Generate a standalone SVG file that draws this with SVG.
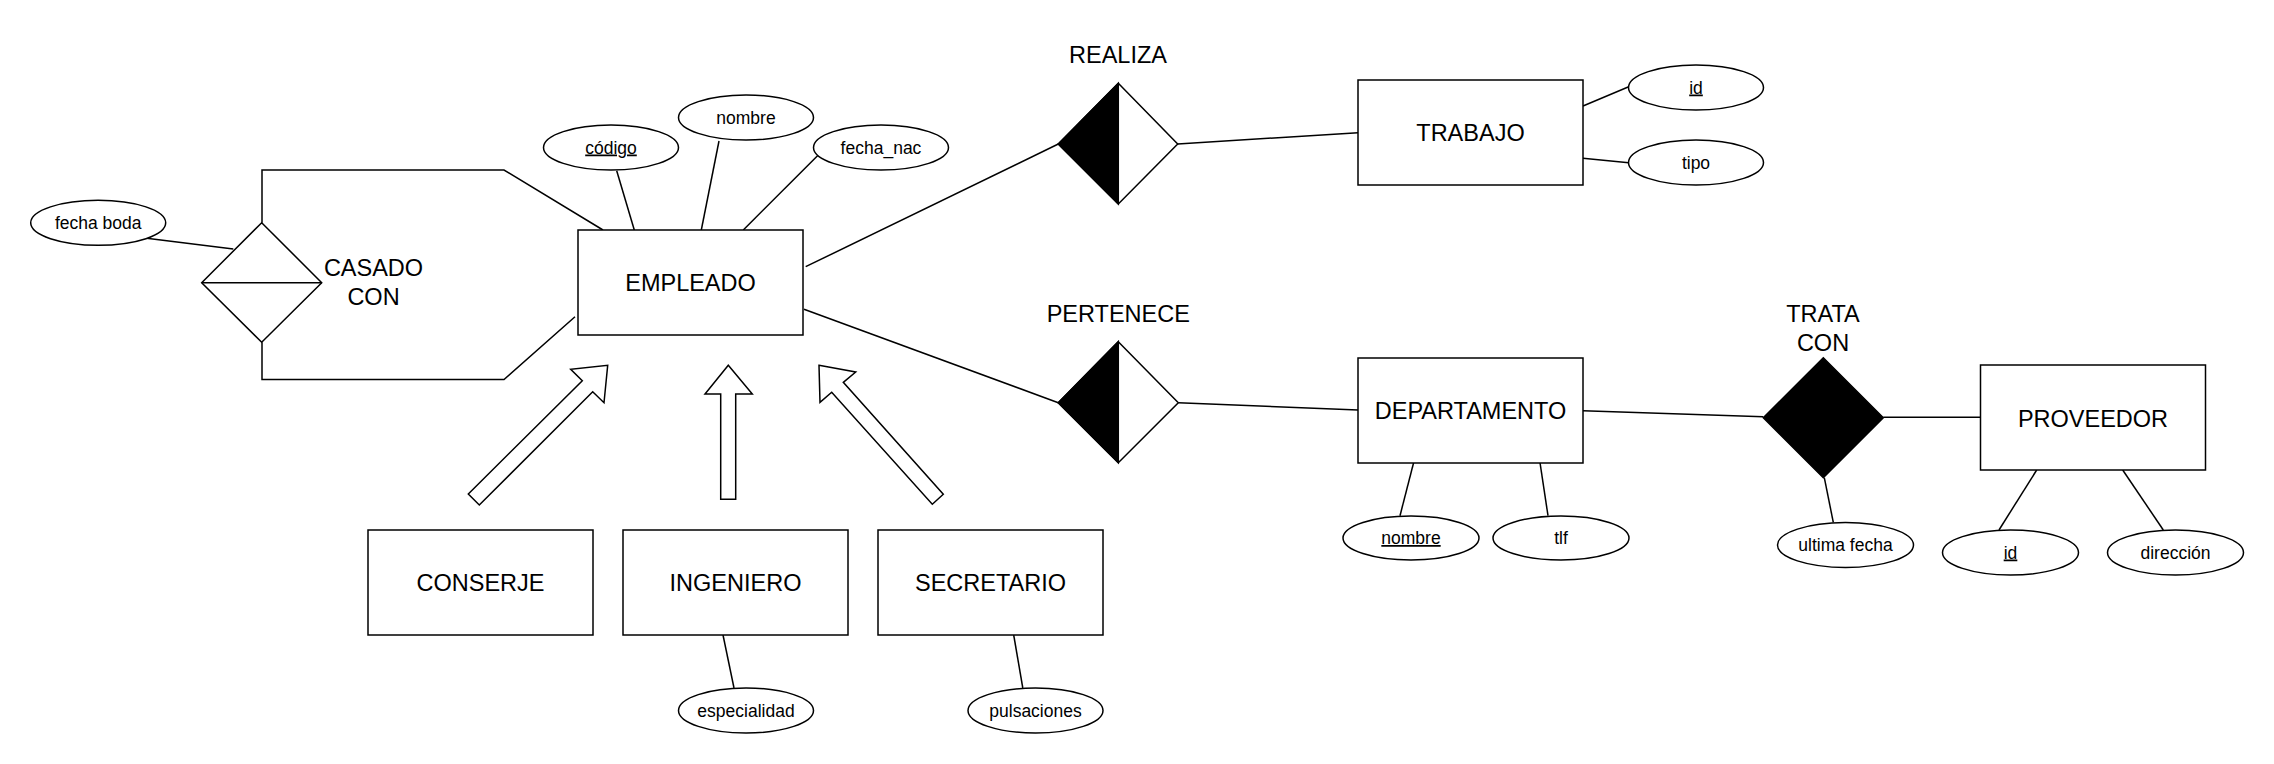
<svg xmlns="http://www.w3.org/2000/svg" width="2274" height="764" viewBox="0 0 2274 764">
<style>
.s{fill:#fff;stroke:#000;stroke-width:1.5}
.k{fill:#000;stroke:#000;stroke-width:1.5}
.ln{fill:none;stroke:#000;stroke-width:1.5}
.t{font-family:"Liberation Sans",Arial,sans-serif;font-size:23.5px;fill:#000;text-anchor:middle}
.a{font-family:"Liberation Sans",Arial,sans-serif;font-size:17.5px;fill:#000;text-anchor:middle}
.u{text-decoration:underline}
</style>
<rect x="0" y="0" width="2274" height="764" fill="#fff"/>
<g id="connectors">
<line class="ln" x1="146.7" y1="238.3" x2="233.3" y2="249"/>
<polyline class="ln" points="262,222.7 262,170 504,170 603,230"/>
<polyline class="ln" points="262,342.3 262,379.5 504,379.5 575,316.7"/>
<line class="ln" x1="616.7" y1="170.7" x2="634.3" y2="230"/>
<line class="ln" x1="719" y1="141" x2="701.3" y2="230"/>
<line class="ln" x1="818.3" y1="155" x2="743.3" y2="230"/>
<line class="ln" x1="805.7" y1="266.7" x2="1058.3" y2="144"/>
<line class="ln" x1="1177.7" y1="144" x2="1358" y2="132.7"/>
<line class="ln" x1="1583" y1="106" x2="1628.7" y2="86.7"/>
<line class="ln" x1="1583" y1="158.3" x2="1628.7" y2="162.7"/>
<line class="ln" x1="804" y1="309.3" x2="1058.3" y2="402.7"/>
<line class="ln" x1="1178.3" y1="402.7" x2="1358" y2="410"/>
<line class="ln" x1="1413.6" y1="462.7" x2="1400" y2="515.7"/>
<line class="ln" x1="1540" y1="462.7" x2="1548" y2="515.7"/>
<line class="ln" x1="1583" y1="410.7" x2="1763.3" y2="416.7"/>
<line class="ln" x1="1883.3" y1="417.3" x2="1980" y2="417.3"/>
<line class="ln" x1="1824.3" y1="477.7" x2="1833.3" y2="522.3"/>
<line class="ln" x1="2036.7" y1="470" x2="1999" y2="530"/>
<line class="ln" x1="2122.7" y1="470" x2="2163.3" y2="530"/>
<line class="ln" x1="723" y1="635" x2="734" y2="688"/>
<line class="ln" x1="1013.7" y1="635" x2="1022.8" y2="688"/>
<polygon class="s" points="468.3,494 582.3,380.7 570.7,369.3 607.7,365.3 604,402.7 592.7,391.7 479.3,505"/>
<polygon class="s" points="728.3,365.3 752.3,394 735.7,394 735.7,499.3 720.7,499.3 720.7,394 705,394"/>
<polygon class="s" points="819,365.3 855.7,372 843.3,382.3 943.3,494.3 932.3,504.3 831.7,392.3 820,402.3"/>
</g>
<g id="empleado">
<rect class="s" x="578" y="230" width="225" height="105"/>
<text class="t" x="690.5" y="291">EMPLEADO</text>
</g>
<g id="codigo">
<ellipse class="s" cx="611" cy="147.5" rx="67.5" ry="22.5"/>
<text class="a u" x="611" y="153.5">código</text>
</g>
<g id="nombre">
<ellipse class="s" cx="746" cy="117.5" rx="67.5" ry="22.5"/>
<text class="a" x="746" y="123.5">nombre</text>
</g>
<g id="fecha_nac">
<ellipse class="s" cx="881" cy="147.5" rx="67.5" ry="22.5"/>
<text class="a" x="881" y="153.5">fecha_nac</text>
</g>
<g id="casado_con">
<polygon class="s" points="261.7,222.7 321.7,282.7 261.7,342.3 201.7,282.7"/>
<line class="ln" x1="201.7" y1="282.7" x2="321.7" y2="282.7"/>
<text class="t"><tspan x="373.5" y="275.5">CASADO</tspan><tspan x="373.5" y="305">CON</tspan></text>
</g>
<g id="fecha_boda">
<ellipse class="s" cx="98.2" cy="222.8" rx="67.5" ry="22.5"/>
<text class="a" x="98.2" y="228.8">fecha boda</text>
</g>
<g id="conserje">
<rect class="s" x="368" y="530" width="225" height="105"/>
<text class="t" x="480.5" y="591">CONSERJE</text>
</g>
<g id="ingeniero">
<rect class="s" x="623" y="530" width="225" height="105"/>
<text class="t" x="735.5" y="591">INGENIERO</text>
</g>
<g id="secretario">
<rect class="s" x="878" y="530" width="225" height="105"/>
<text class="t" x="990.5" y="591">SECRETARIO</text>
</g>
<g id="especialidad">
<ellipse class="s" cx="746" cy="710.5" rx="67.5" ry="22.5"/>
<text class="a" x="746" y="716.5">especialidad</text>
</g>
<g id="pulsaciones">
<ellipse class="s" cx="1035.5" cy="710.5" rx="67.5" ry="22.5"/>
<text class="a" x="1035.5" y="716.5">pulsaciones</text>
</g>
<g id="realiza">
<polygon class="s" points="1118.3,83.3 1177.7,144 1118.3,204 1058.3,144"/>
<polygon class="k" points="1118.3,83.3 1118.3,204 1058.3,144"/>
<text class="t" x="1118" y="63.3">REALIZA</text>
</g>
<g id="trabajo">
<rect class="s" x="1358" y="80" width="225" height="105"/>
<text class="t" x="1470.5" y="141">TRABAJO</text>
</g>
<g id="trabajo_id">
<ellipse class="s" cx="1696" cy="87.5" rx="67.5" ry="22.5"/>
<text class="a u" x="1696" y="93.5">id</text>
</g>
<g id="tipo">
<ellipse class="s" cx="1696" cy="162.5" rx="67.5" ry="22.5"/>
<text class="a" x="1696" y="168.5">tipo</text>
</g>
<g id="pertenece">
<polygon class="s" points="1118.3,341.7 1178.3,402.7 1118.3,462.7 1058.3,402.7"/>
<polygon class="k" points="1118.3,341.7 1118.3,462.7 1058.3,402.7"/>
<text class="t" x="1118.3" y="321.7">PERTENECE</text>
</g>
<g id="departamento">
<rect class="s" x="1358" y="358" width="225" height="105"/>
<text class="t" x="1470.5" y="418.6">DEPARTAMENTO</text>
</g>
<g id="dept_nombre">
<ellipse class="s" cx="1411" cy="538" rx="68" ry="22"/>
<text class="a u" x="1411" y="544">nombre</text>
</g>
<g id="tlf">
<ellipse class="s" cx="1561" cy="538" rx="68" ry="22"/>
<text class="a" x="1561" y="544">tlf</text>
</g>
<g id="trata_con">
<polygon class="k" points="1823.3,357.7 1883.3,417.7 1823.3,477.7 1763.3,417.7"/>
<text class="t"><tspan x="1823" y="321.7">TRATA</tspan><tspan x="1823" y="351">CON</tspan></text>
</g>
<g id="ultima_fecha">
<ellipse class="s" cx="1845.5" cy="545" rx="68" ry="22.5"/>
<text class="a" x="1845.5" y="551">ultima fecha</text>
</g>
<g id="proveedor">
<rect class="s" x="1980.5" y="365" width="225" height="105"/>
<text class="t" x="2093" y="426.5">PROVEEDOR</text>
</g>
<g id="prov_id">
<ellipse class="s" cx="2010.5" cy="552.5" rx="68" ry="22.5"/>
<text class="a u" x="2010.5" y="558.5">id</text>
</g>
<g id="direccion">
<ellipse class="s" cx="2175.5" cy="552.5" rx="68" ry="22.5"/>
<text class="a" x="2175.5" y="558.5">dirección</text>
</g>
</svg>
